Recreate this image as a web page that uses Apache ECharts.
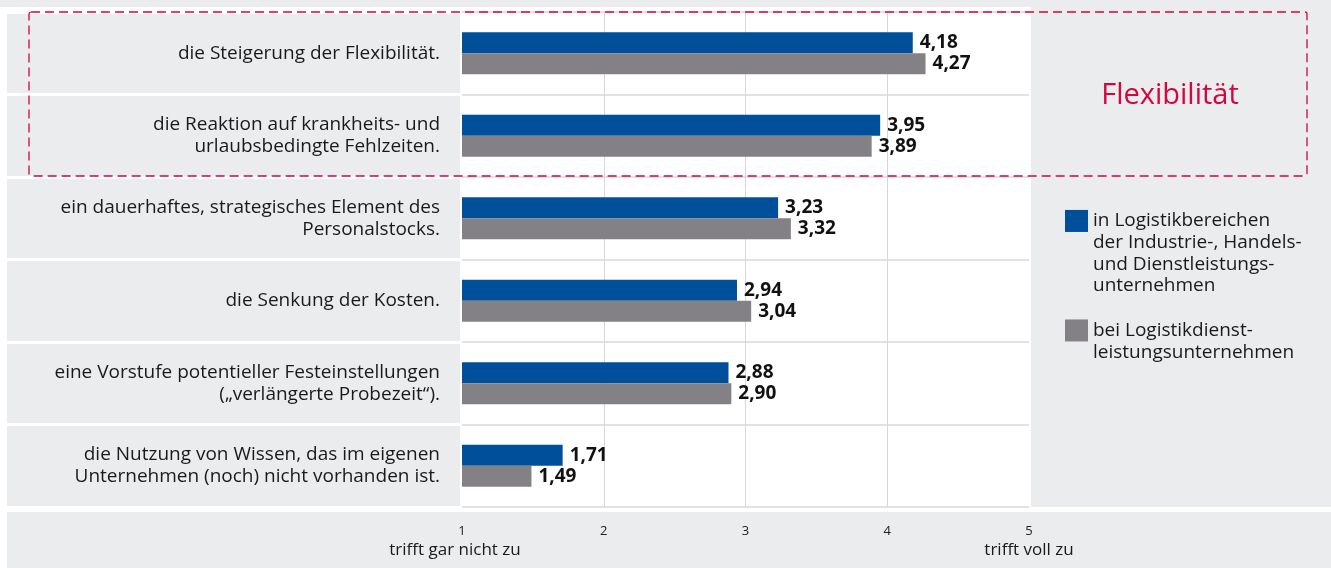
<!DOCTYPE html>
<html>
<head>
<meta charset="utf-8">
<script src="https://cdn.jsdelivr.net/npm/echarts@6/dist/echarts.min.js"></script>
<style>
  html, body { margin: 0; padding: 0; background: #fff; }
  #main { width: 1331px; height: 568px; }
</style>
</head>
<body>
<div id="main"></div>
<script>
// statements, top to bottom
let categories = [
  "die Steigerung der Flexibilität.",
  "die Reaktion auf krankheits- und\nurlaubsbedingte Fehlzeiten.",
  "ein dauerhaftes, strategisches Element des\nPersonalstocks.",
  "die Senkung der Kosten.",
  "eine Vorstufe potentieller Festeinstellungen\n(„verlängerte Probezeit“).",
  "die Nutzung von Wissen, das im eigenen\nUnternehmen (noch) nicht vorhanden ist."
];
let industryValues = [4.18, 3.95, 3.23, 2.94, 2.88, 1.71];
let serviceValues = [4.27, 3.89, 3.32, 3.04, 2.90, 1.49];
let tickValues = [1, 2, 3, 4, 5];

let industryName = "in Logistikbereichen\nder Industrie-, Handels-\nund Dienstleistungs-\nunternehmen";
let serviceName = "bei Logistikdienst-\nleistungsunternehmen";

const FONT = "Open Sans";
const PANEL = "#ebeced";
const RED = "#d3063e";
const LH = 21.7;

let myChart = echarts.init(document.getElementById("main"));

let valueLabel = {
  show: true,
  position: "right",
  distance: 7,
  fontFamily: FONT,
  fontWeight: "bold",
  fontSize: 19,
  color: "#111",
  formatter: (p) => p.value.toFixed(2).replace(".", ",")
};

let options = {
  backgroundColor: "#fff",
  animation: false,
  grid: [
    { left: 462, right: 302, top: 12, bottom: 61, show: true, backgroundColor: "#fff", borderWidth: 0 },
    { left: 7, width: 453, top: 12, bottom: 61, show: true, backgroundColor: PANEL, borderWidth: 0 }
  ],
  xAxis: [
    {
      type: "value",
      min: 1,
      max: 5,
      interval: 1,
      axisLine: { show: false },
      axisTick: { show: false },
      axisLabel: {
        margin: 18,
        fontFamily: FONT,
        fontSize: 13,
        color: "#222",
        formatter: (v) => (tickValues.includes(v) ? String(v) : "")
      },
      splitLine: {
        lineStyle: { color: ["transparent", "#d8d8d8", "#d8d8d8", "#d8d8d8", "transparent"], width: 1 }
      }
    },
    { type: "value", gridIndex: 1, show: false }
  ],
  yAxis: [
    {
      type: "category",
      data: categories,
      inverse: true,
      axisLine: { show: false },
      axisTick: { show: false },
      axisLabel: {
        margin: 22,
        fontFamily: FONT,
        fontSize: 19,
        lineHeight: 22,
        color: "#1a1a1a",
        align: "right"
      },
      splitLine: { show: true, lineStyle: { color: "#d8d8d8", width: 1.5 } }
    },
    {
      type: "category",
      gridIndex: 1,
      data: categories,
      inverse: true,
      axisLine: { show: false },
      axisTick: { show: false },
      axisLabel: { show: false },
      splitLine: { show: true, lineStyle: { color: "#fff", width: 3 } }
    }
  ],
  legend: {
    orient: "vertical",
    left: 1060,
    top: 140,
    itemWidth: 23,
    itemHeight: 22,
    itemGap: 1,
    icon: "rect",
    // leading blank lines keep the first text line level with the square
    formatter: (name) => "\n".repeat(name.split("\n").length - 1) + name,
    textStyle: {
      fontFamily: FONT,
      fontSize: 19,
      lineHeight: LH,
      color: "#1a1a1a"
    },
    data: [industryName, serviceName]
  },
  graphic: [
    { type: "rect", z: -1, shape: { x: 0, y: 0, width: 1331, height: 7 }, style: { fill: PANEL } },
    { type: "rect", z: -1, shape: { x: 1031, y: 0, width: 300, height: 507 }, style: { fill: PANEL } },
    { type: "rect", z: -1, shape: { x: 7, y: 512, width: 1324, height: 56 }, style: { fill: PANEL } },
    {
      type: "rect", z: 50, silent: true,
      shape: { x: 29, y: 12, width: 1278, height: 164, r: 2 },
      style: { fill: "none", stroke: RED, lineWidth: 1.3, lineDash: [9, 5] }
    },
    {
      type: "text", z: 50, x: 1170, y: 96,
      style: { text: "Flexibilität", fill: RED, font: "29px '" + FONT + "'", textAlign: "center", textVerticalAlign: "middle" }
    },
    {
      type: "text", z: 50, x: 455, y: 550,
      style: { text: "trifft gar nicht zu", fill: "#1a1a1a", font: "17px '" + FONT + "'", textAlign: "center", textVerticalAlign: "middle" }
    },
    {
      type: "text", z: 50, x: 1029, y: 550,
      style: { text: "trifft voll zu", fill: "#1a1a1a", font: "17px '" + FONT + "'", textAlign: "center", textVerticalAlign: "middle" }
    }
  ],
  series: [
    {
      name: industryName,
      type: "bar",
      data: industryValues,
      barWidth: 21,
      barGap: "0%",
      itemStyle: { color: "#004f9a" },
      label: valueLabel
    },
    {
      name: serviceName,
      type: "bar",
      data: serviceValues,
      barWidth: 21,
      barGap: "0%",
      itemStyle: { color: "#838186" },
      label: valueLabel
    }
  ]
};
myChart.setOption(options);
</script>
</body>
</html>
